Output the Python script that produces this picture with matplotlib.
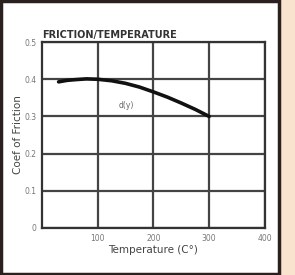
import matplotlib
matplotlib.use("Agg")
import matplotlib.pyplot as plt
from matplotlib.patches import Rectangle

# data
temp = [30, 45, 60, 80, 100, 125, 150, 175, 200, 225, 250, 275, 300]
coef = [0.393, 0.397, 0.399, 0.401, 0.400, 0.396, 0.389, 0.379, 0.366, 0.352, 0.336, 0.319, 0.300]
xticks = [100, 200, 300, 400]
xtick_labels = ['100', '200', '300', '400']
yticks = [0, 0.1, 0.2, 0.3, 0.4, 0.5]
ytick_labels = ['0', '0.1', '0.2', '0.3', '0.4', '0.5']

fig = plt.figure(figsize=(2.95, 2.75), dpi=100)
fig.patch.set_facecolor('#f9e3cf')
# white card with a dark frame, behind the axes
fig.patches.append(Rectangle((0.004, 0.004), 0.942, 0.992, transform=fig.transFigure,
                             facecolor='white', edgecolor='#2a2020', linewidth=2.5,
                             zorder=-1))

ax = fig.add_axes([0.142, 0.171, 0.756, 0.676])
ax.plot(temp, coef, color='#111111', linewidth=2.6, solid_capstyle='round')
ax.set_xlim(0, 400)
ax.set_ylim(0, 0.5)
ax.set_xticks(xticks)
ax.set_xticklabels(xtick_labels)
ax.set_yticks(yticks)
ax.set_yticklabels(ytick_labels)
ax.grid(True, color='#444444', linewidth=1.6)
for s in ax.spines.values():
    s.set_color('#333333')
    s.set_linewidth(1.6)
ax.tick_params(length=0, labelsize=5.5, labelcolor='#777777', pad=4)
ax.set_xlabel('Temperature (C°)', fontsize=7.5, color='#444444', labelpad=2)
ax.set_ylabel('Coef of Friction', fontsize=7.5, color='#444444', labelpad=1)
ax.set_title('FRICTION/TEMPERATURE', fontsize=7, fontweight='bold', color='#333333',
             loc='left', pad=3)
ax.text(152, 0.33, 'd(y)', fontsize=5.5, color='#666666', ha='center', va='center')

fig.savefig('out.png', dpi=100)
